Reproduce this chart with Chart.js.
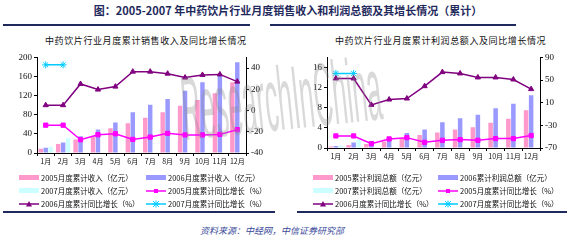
<!DOCTYPE html>
<html>
<head>
<meta charset="utf-8">
<script src="https://cdn.jsdelivr.net/npm/chart.js@4"></script>
<style>
  body { margin: 0; background: #fff; }
  #wrap { position: relative; width: 576px; height: 242px; overflow: hidden; font-family: "Noto Sans CJK SC", sans-serif; }
  .abs { position: absolute; }
  .title { left: 0; width: 576px; top: 2px; text-align: center; font-size: 11px; font-weight: bold; color: #1f2a5c; }
  .rule { height: 2px; background: #1f2a5c; }
  .sub { font-size: 9px; color: #111; white-space: nowrap; letter-spacing: 0.6px; }
  .leg { font-size: 7.5px; color: #111; white-space: nowrap; display: flex; align-items: center; }
  .leg .sw { width: 20px; height: 8px; margin-right: 2px; display: flex; align-items: center; }
  .src { left: 200px; top: 224px; font-size: 9px; font-style: italic; color: #3a4a9a; }
  #wm { left: 0; top: 0; pointer-events: none; }
</style>
</head>
<body>
<div id="wrap">
  <div class="abs title">图：2005-2007 年中药饮片行业月度销售收入和利润总额及其增长情况（累计）</div>
  <div class="abs rule" style="left:3px;top:24px;width:247px"></div>
  <div class="abs rule" style="left:270px;top:24px;width:246px"></div>

  <div class="abs sub" style="left:45px;top:34px">中药饮片行业月度累计销售收入及同比增长情况</div>
  <div class="abs sub" style="left:335px;top:34px">中药饮片行业月度累计利润总额入及同比增长情况</div>

  <div class="abs" style="left:15px;top:50px;width:253px;height:123px"><canvas id="c1"></canvas></div>
  <div class="abs" style="left:305px;top:50px;width:257px;height:118px"><canvas id="c2"></canvas></div>

  <div id="leg1"></div>
  <div id="leg2"></div>

  <div class="abs rule" style="left:3px;top:211px;width:272px"></div>
  <div class="abs rule" style="left:297px;top:211px;width:270px"></div>
  <div class="abs src">资料来源：中经网，中信证券研究部</div>
  <svg class="abs" id="wm" width="576" height="242">
    <text x="185" y="140" font-family="Liberation Sans" font-size="90" textLength="200"
          lengthAdjust="spacingAndGlyphs" fill="rgba(140,140,140,0.33)"
          transform="rotate(-6 185 140)">ResearchInChina</text>
  </svg>
</div>
<script>
const months = ['1月','2月','3月','4月','5月','6月','7月','8月','9月','10月','11月','12月'];

// 销售收入（亿元）
const rev2005 = [9, 19, 28, 35, 52, 62, 74, 85, 99, 111, 125, 148];
const rev2006 = [11, 22, 35, 49, 64, 85, 101, 113, 130, 148, 165, 190];
const rev2007 = [13, 31, null, null, null, null, null, null, null, null, null, null];
// 销售收入同比增长（%）
const revGr2005 = [-13.8, -13.8, -27.5, -22.8, -21.9, -27.2, -25, -21.5, -23, -23, -22.5, -18];
const revGr2006 = [5, 5, 25, 19.7, 22.5, 36.6, 36.6, 34.7, 31, 33.5, 34, 27.2];
const revGr2007 = [43, 43, null, null, null, null, null, null, null, null, null, null];

// 利润总额（亿元）
const pro2005 = [0.3, 0.6, 0.8, 1.3, 2.0, 2.6, 3.1, 3.7, 4.1, 5.0, 5.8, 7.5];
const pro2006 = [0.4, 1.1, 1.4, 2.0, 3.0, 3.7, 5.1, 5.9, 6.6, 7.9, 8.8, 10.5];
const pro2007 = [0.5, 1.7, null, null, null, null, null, null, null, null, null, null];
// 利润总额同比增长（%）
const proGr2005 = [-48.7, -48.7, -62.3, -54, -51.7, -60, -56.4, -55.2, -56.4, -53.4, -53.4, -48];
const proGr2006 = [52.8, 52.8, 6.2, 15.6, 17.4, 39.2, 64, 61.7, 54.6, 54.6, 51, 34];
const proGr2007 = [61.7, 61.7, null, null, null, null, null, null, null, null, null, null];

// tick labels
const revTicks = [0, 20, 40, 60, 80, 100, 120, 140, 160, 180, 200];
const revGrTicks = [-40, -30, -20, -10, 0, 10, 20, 30, 40, 50];
const proTicks = [0, 4, 8, 12, 16];
const proGrTicks = [-70, -30, 10, 50, 90];

const C = {
  b05: '#ff99cc', b06: '#9999ff', b07: '#ccffff',
  l05: '#ff00ff', l06: '#800080', l07: '#00ccff'
};

const legend1 = ['2005月度累计收入（亿元）', '2006月度累计收入（亿元）', '2007月度累计收入（亿元）',
                 '2005月度累计同比增长（%）', '2006月度累计同比增长（%）', '2007月度累计同比增长（%）'];
const legend2 = ['2005累计利润总额（亿元）', '2006累计利润总额（亿元）', '2007累计利润总额（亿元）',
                 '2005月度累计同比增长（%）', '2006月度累计同比增长（%）', '2007月度累计同比增长（%）'];

const tickFont = { family: 'Liberation Serif', size: 9 };
const xFont = { family: 'Noto Sans CJK SC', size: 7 };

function fixTicks(vals) {
  return function (scale) { scale.ticks = vals.map(v => ({ value: v })); };
}

function makeChart(id, bars, lines, yMin, yMax, yTicks, y1Min, y1Max, y1Ticks, labels) {
  const ds = [];
  const barCols = [C.b05, C.b06, C.b07];
  bars.forEach((d, i) => ds.push({
    type: 'bar', label: labels[i], data: d, yAxisID: 'y', backgroundColor: barCols[i],
    categoryPercentage: 0.85, barPercentage: 0.9, order: 2
  }));
  const lineCols = [C.l05, C.l06, C.l07];
  const styles = ['rect', 'triangle', 'star'];
  lines.forEach((d, i) => ds.push({
    type: 'line', label: labels[3 + i], data: d, yAxisID: 'y1', borderColor: lineCols[i],
    backgroundColor: lineCols[i], borderWidth: 1.5, pointStyle: styles[i],
    pointRadius: i === 2 ? 3.5 : 3, pointBorderWidth: 1, tension: 0, order: 1, spanGaps: false
  }));
  return new Chart(document.getElementById(id), {
    data: { labels: months, datasets: ds },
    options: {
      responsive: true, maintainAspectRatio: false, animation: false,
      layout: { padding: { top: 2, left: 0, right: 0, bottom: 0 } },
      plugins: { legend: { display: false }, tooltip: { enabled: false } },
      scales: {
        x: {
          ticks: { font: xFont, color: '#111', maxRotation: 0, autoSkip: false, padding: 1 },
          grid: { drawOnChartArea: false, drawTicks: true, tickLength: 3, color: '#000' },
          border: { color: '#000', width: 1 },
          afterFit: s => { s.height = 20; }
        },
        y: {
          position: 'left', min: yMin, max: yMax, afterBuildTicks: fixTicks(yTicks),
          ticks: { font: tickFont, color: '#111', padding: 2 },
          grid: { drawOnChartArea: false, drawTicks: true, tickLength: 3, color: '#000' },
          border: { color: '#000', width: 1 },
          afterFit: s => { s.width = 22; }
        },
        y1: {
          position: 'right', min: y1Min, max: y1Max, afterBuildTicks: fixTicks(y1Ticks),
          ticks: { font: tickFont, color: '#111', padding: 2 },
          grid: { drawOnChartArea: false, drawTicks: true, tickLength: 3, color: '#000' },
          border: { color: '#000', width: 1 },
          afterFit: s => { s.width = 22; }
        }
      }
    }
  });
}

makeChart('c1', [rev2005, rev2006, rev2007], [revGr2005, revGr2006, revGr2007],
  0, 200, revTicks, -40, 50, revGrTicks, legend1);
makeChart('c2', [pro2005, pro2006, pro2007], [proGr2005, proGr2006, proGr2007],
  0, 18, proTicks, -70, 90, proGrTicks, legend2);

// legends
function swatch(i) {
  const bar = [C.b05, C.b06, C.b07];
  const line = [C.l05, C.l06, C.l07];
  if (i < 3) return '<div style="width:20px;height:5px;background:' + bar[i] + '"></div>';
  const c = line[i - 3];
  let m = '';
  if (i === 3) m = '<rect x="8" y="2" width="4" height="4" fill="' + c + '"/>';
  if (i === 4) m = '<polygon points="10,1 13,6.5 7,6.5" fill="' + c + '"/>';
  if (i === 5) m = '<path d="M7,1 L13,7 M13,1 L7,7 M10,0.5 L10,7.5 M6.5,4 L13.5,4" stroke="' + c + '" stroke-width="1"/>';
  return '<svg width="20" height="8"><line x1="0" y1="4" x2="20" y2="4" stroke="' + c + '" stroke-width="1.5"/>' + m + '</svg>';
}
function buildLegend(el, labels, x0, x1) {
  const rows = [172, 185, 198];
  let html = '';
  labels.forEach((t, i) => {
    const x = i % 2 === 0 ? x0 : x1;
    const y = rows[Math.floor(i / 2)];
    html += '<div class="abs leg" style="left:' + x + 'px;top:' + y + 'px;height:11px">' +
      '<div class="sw">' + swatch(i) + '</div><span>' + t + '</span></div>';
  });
  document.getElementById(el).innerHTML = html;
}
buildLegend('leg1', legend1, 19, 146);
buildLegend('leg2', legend2, 313, 438);
</script>
</body>
</html>
